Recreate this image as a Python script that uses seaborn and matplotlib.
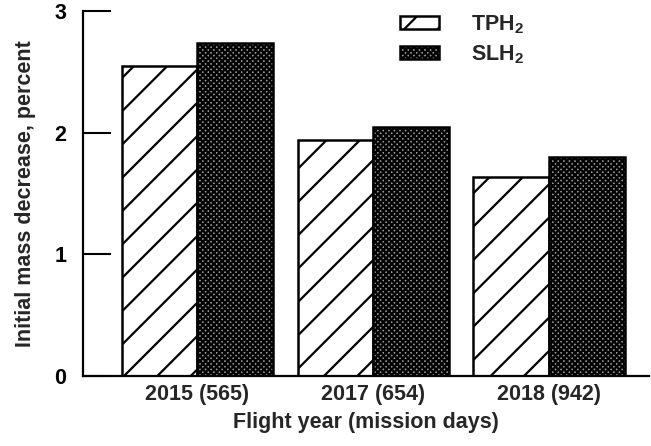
import matplotlib
matplotlib.use("Agg")
import matplotlib.pyplot as plt
import seaborn as sns
import pandas as pd

categories = ["2015 (565)", "2017 (654)", "2018 (942)"]
series = ["TPH$_2$", "SLH$_2$"]
tph2 = [2.55, 1.94, 1.64]
slh2 = [2.74, 2.05, 1.80]

df = pd.DataFrame({
    "year": categories * 2,
    "series": [series[0]] * 3 + [series[1]] * 3,
    "value": tph2 + slh2,
})

sns.set_theme(style="white")
plt.rcParams["font.family"] = ["Liberation Sans", "DejaVu Sans"]
plt.rcParams["hatch.linewidth"] = 1.6
plt.rcParams["mathtext.default"] = "regular"

fig = plt.figure(figsize=(6.51, 4.46), dpi=100)
ax = fig.add_axes([0.1275, 0.157, 0.87, 0.818])

sns.barplot(data=df, x="year", y="value", hue="series", order=categories,
            hue_order=series, width=0.86, gap=0, ax=ax,
            palette=["white", "#5c5c5c"], saturation=1,
            edgecolor="black", linewidth=1.8, legend=True)

hatches = ["/", "xxxxxx"]
faces = ["white", "#9a9a9a"]
for cont, h, fc in zip(ax.containers, hatches, faces):
    for bar in cont:
        bar.set_hatch(h)
        bar.set_facecolor(fc)

ax.set_xlim(-0.65, 2.57)
ax.set_ylim(0, 3)
ax.set_yticks([0, 1, 2, 3])
ax.set_yticklabels(["0", "1", "2", "3"], fontsize=15.5, fontweight="bold")
ax.set_xticklabels(categories, fontsize=15.5, fontweight="bold")
ax.tick_params(axis="y", direction="in", length=20, width=1.5, pad=12, left=True, colors="black")
ax.tick_params(axis="x", length=0, pad=6)
for s in ["top", "right"]:
    ax.spines[s].set_visible(False)
for s in ["left", "bottom"]:
    ax.spines[s].set_color("black")
    ax.spines[s].set_linewidth(1.6)

ax.set_xlabel("Flight year (mission days)", fontsize=15.5, fontweight="bold", labelpad=5)
ax.set_ylabel("Initial mass decrease, percent", fontsize=15.5, fontweight="bold", labelpad=13)

leg = ax.legend(loc="upper left", bbox_to_anchor=(0.56, 0.995), frameon=False,
                prop={"size": 15.5, "weight": "bold"}, handlelength=1.8,
                handleheight=0.6, handletextpad=1.5, labelspacing=0.35,
                borderpad=0, borderaxespad=0)
for hnd, h, fc in zip(leg.legend_handles, hatches, faces):
    hnd.set_edgecolor("black")
    hnd.set_hatch(h)
    hnd.set_facecolor(fc)
    hnd.set_linewidth(1.8)

fig.savefig("out.png", dpi=100)
